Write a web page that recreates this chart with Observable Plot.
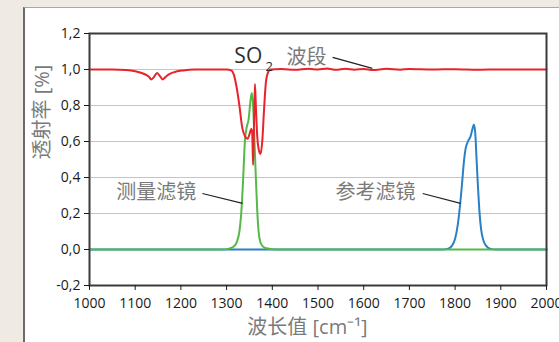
<!DOCTYPE html>
<html><head><meta charset="utf-8">
<script src="https://cdn.jsdelivr.net/npm/d3@7"></script>
<script src="https://cdn.jsdelivr.net/npm/@observablehq/plot@0.6"></script>
<style>
html,body{margin:0;padding:0;background:#efebe4;width:559px;height:342px;overflow:hidden}
#panel{position:absolute;left:23px;top:7px;right:0;bottom:0;background:#fff;border-left:2px solid #6b6b6b;border-top:1px solid #a8a8a8}
#chart{position:absolute;left:0;top:0}
</style></head><body><div id="panel"></div><div id="chart"></div>
<script>
// Tick values
const xTicks = [1000,1100,1200,1300,1400,1500,1600,1700,1800,1900,2000];
const yTicks = [-0.2,0,0.2,0.4,0.6,0.8,1.0,1.2];

// SO2 transmission (red)
const so2Wave = [1000,1050,1080,1100,1120,1130,1135,1140,1148,1155,1160,1165,1172,1185,1205,1230,1300,1310,1316,1322,1328,1334,1340,1346,1350,1354,1356,1358,1360,1362,1364,1367,1370,1374,1378,1382,1386,1390,1396,1420,1450,1480,1500,1520,1540,1560,1580,1600,1620,1650,1680,1700,1750,1800,1850,1900,1950,2000];
const so2Trans = [1.0,1.0,0.997,0.99,0.975,0.96,0.945,0.955,0.98,0.96,0.945,0.955,0.97,0.985,0.995,1.0,1.0,0.995,0.97,0.9,0.8,0.68,0.63,0.615,0.64,0.67,0.65,0.47,0.7,0.92,0.8,0.63,0.56,0.53,0.6,0.78,0.93,0.98,1.0,1.003,0.998,1.004,1.0,1.005,0.998,1.004,0.999,1.003,0.997,1.004,0.999,1.003,1.0,1.002,0.999,1.0,1.0,1.0];

// Measurement filter (green)
const measWave = [1000,1290,1305,1315,1322,1328,1332,1336,1340,1344,1348,1352,1355,1358,1361,1364,1367,1370,1374,1380,1390,1410,2000];
const measTrans = [0,0,0.005,0.015,0.04,0.1,0.2,0.38,0.6,0.68,0.72,0.82,0.87,0.8,0.6,0.4,0.22,0.1,0.04,0.015,0.005,0,0];

// Reference filter (blue)
const refWave = [1000,1770,1785,1793,1800,1806,1811,1815,1819,1823,1828,1834,1838,1841,1844,1847,1850,1853,1857,1862,1868,1876,1890,2000];
const refTrans = [0,0,0.005,0.02,0.06,0.14,0.25,0.36,0.48,0.56,0.6,0.63,0.67,0.695,0.65,0.5,0.35,0.22,0.11,0.05,0.02,0.005,0,0];

const toRows = (ws, ts) => ws.map((w, i) => ({w, t: ts[i]}));
const so2 = toRows(so2Wave, so2Trans);
const meas = toRows(measWave, measTrans);
const ref = toRows(refWave, refTrans);

const cjk = "'Open Sans','Noto Sans CJK SC',sans-serif";
const chart = Plot.plot({
  width: 559, height: 342,
  marginLeft: 89, marginRight: 13, marginTop: 33, marginBottom: 57,
  style: {background: "transparent", fontFamily: cjk, fontSize: "14px", color: "#1a1a1a"},
  x: {domain: [1000, 2000]},
  y: {domain: [-0.2, 1.2]},
  marks: [
    Plot.gridY(yTicks, {stroke: "#c4c4c4", strokeOpacity: 1, strokeWidth: 1}),
    Plot.line(ref, {x: "w", y: "t", stroke: "#2a80c6", strokeWidth: 2, curve: "monotone-x"}),
    Plot.line(meas, {x: "w", y: "t", stroke: "#55b947", strokeWidth: 2, curve: "monotone-x"}),
    Plot.line(so2, {x: "w", y: "t", stroke: "#e8232b", strokeWidth: 2, curve: "monotone-x"}),
    Plot.frame({stroke: "#3a3a3a", strokeWidth: 2}),
    Plot.axisX({ticks: xTicks, tickFormat: d => String(d), tickSize: 5, tickPadding: 8, label: null, fontSize: 14}),
    Plot.axisY({ticks: yTicks, tickFormat: d => d.toFixed(1).replace(".", ","), tickSize: 5, tickPadding: 4, label: null, fontSize: 14}),
    // leader lines
    Plot.link([0], {x1: 1532, y1: 1.067, x2: 1619, y2: 1.006, stroke: "#222", strokeWidth: 1.2}),
    Plot.link([0], {x1: 1247, y1: 0.311, x2: 1335, y2: 0.256, stroke: "#222", strokeWidth: 1.2}),
    Plot.link([0], {x1: 1729, y1: 0.311, x2: 1812, y2: 0.256, stroke: "#222", strokeWidth: 1.2}),
    // annotations
    Plot.text(["SO"], {x: 1317, y: 1.075, text: d => d, textAnchor: "start", fontSize: 21, fill: "#2e2e2e"}),
    Plot.text(["2"], {x: 1385, y: 1.017, text: d => d, textAnchor: "start", fontSize: 13, fill: "#2e2e2e"}),
    Plot.text(["波段"], {x: 1431, y: 1.067, text: d => d, textAnchor: "start", fontSize: 20, fill: "#7a7a7a"}),
    Plot.text(["测量滤镜"], {x: 1146, y: 0.317, text: d => d, fontSize: 20, fill: "#7a7a7a"}),
    Plot.text(["参考滤镜"], {x: 1626, y: 0.317, text: d => d, fontSize: 20, fill: "#7a7a7a"}),
    // axis titles
    Plot.text(["波长值 [cm⁻¹]"], {x: 1477, frameAnchor: "bottom", dy: 48, text: d => d, fontSize: 20, fill: "#7a7a7a"}),
    Plot.text(["透射率 [%]"], {y: 0.5, frameAnchor: "left", dx: -47, rotate: -90, text: d => d, fontSize: 20, fill: "#7a7a7a"})
  ]
});
document.getElementById("chart").appendChild(chart);
</script></body></html>
